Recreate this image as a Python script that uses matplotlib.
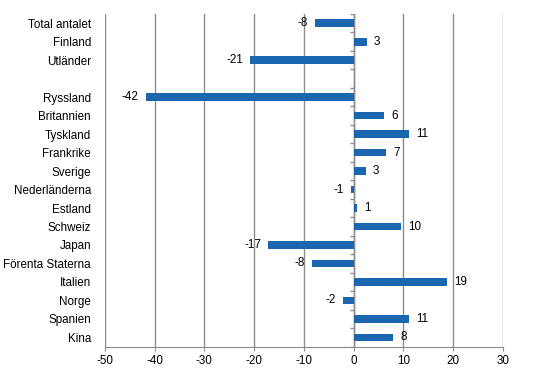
import numpy as np
import matplotlib.pyplot as plt

plt.rcParams['font.family'] = ['Liberation Sans', 'DejaVu Sans']
plt.rcParams['axes.unicode_minus'] = False

categories = ["Total antalet", "Finland", "Utländer", "",
              "Ryssland", "Britannien", "Tyskland", "Frankrike", "Sverige",
              "Nederländerna", "Estland", "Schweiz", "Japan", "Förenta Staterna",
              "Italien", "Norge", "Spanien", "Kina"]
values = [-7.8, 2.7, -20.8, np.nan,
          -41.8, 6.2, 11.2, 6.6, 2.5,
          -0.5, 0.7, 9.6, -17.2, -8.4,
          18.8, -2.2, 11.2, 8.0]
value_labels = ["-8", "3", "-21", "",
                "-42", "6", "11", "7", "3",
                "-1", "1", "10", "-17", "-8",
                "19", "-2", "11", "8"]

bar_color = "#1a67b0"
grid_color = "#8c8c8c"
fs = 8.4

fig = plt.figure(figsize=(5.46, 3.76), dpi=100)
ax = fig.add_axes([0.192, 0.078, 0.729, 0.885])

y = np.arange(len(categories))
vals = np.array(values, dtype=float)
ax.barh(y, np.nan_to_num(vals), height=0.42, color=bar_color, zorder=3)

for yi, v, lab in zip(y, vals, value_labels):
    if np.isnan(v):
        continue
    if v >= 0:
        ax.annotate(lab, (v, yi), xytext=(5, 0), textcoords="offset points",
                    ha="left", va="center", fontsize=fs)
    else:
        ax.annotate(lab, (v, yi), xytext=(-5, 0), textcoords="offset points",
                    ha="right", va="center", fontsize=fs)

ax.set_xlim(-50, 30)
ax.set_ylim(len(categories) - 0.5, -0.5)
ax.set_xticks(np.arange(-50, 31, 10))
ax.tick_params(axis="x", labelsize=fs, length=3, color=grid_color, pad=3)
ax.set_yticks(y)
ax.set_yticklabels(categories, fontsize=fs)
ax.tick_params(axis="y", length=0, pad=10)

ax.xaxis.grid(True, color=grid_color, linewidth=1, zorder=0)
ax.set_axisbelow(True)
for s in ["top", "right", "left"]:
    ax.spines[s].set_visible(False)
ax.spines["bottom"].set_color(grid_color)

# zero axis with category separator ticks
ax.axvline(0, color=grid_color, linewidth=1, zorder=2)
bounds = np.arange(-0.5, len(categories), 1.0)
ax.hlines(bounds, -0.8, 0, color=grid_color, linewidth=1, zorder=2)

fig.savefig("out.png", dpi=100)
